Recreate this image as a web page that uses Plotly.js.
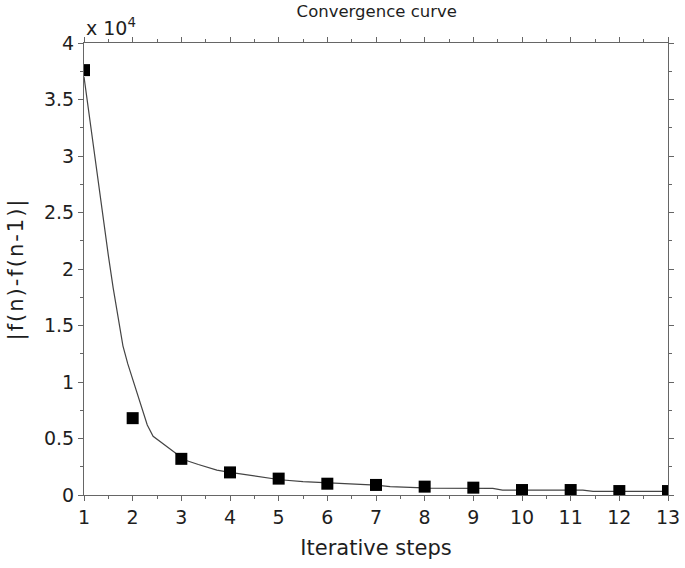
<!DOCTYPE html>
<html>
<head>
<meta charset="utf-8">
<script src="https://cdn.plot.ly/plotly-3.0.1.min.js"></script>
<style>html,body{margin:0;padding:0;background:#fff;}#chart{width:685px;height:568px;}
.ytitle{letter-spacing:2px;}</style>
</head>
<body>
<div id="chart"></div>
<script>
// Iteration steps and |f(n)-f(n-1)| values (units of 10^4)
var steps = [1, 2, 3, 4, 5, 6, 7, 8, 9, 10, 11, 12, 13];
var diffs = [3.76, 0.68, 0.32, 0.20, 0.145, 0.10, 0.089, 0.074, 0.065, 0.044, 0.044, 0.035, 0.035];

// Fitted convergence curve (units of 10^4)
var curveX = [1.0, 1.1, 1.2, 1.3, 1.4, 1.5, 1.6, 1.7, 1.8, 1.9, 2.0, 2.1, 2.2, 2.3, 2.42, 2.6, 2.8, 3.07, 3.35, 3.73, 4.0, 4.47, 5.03, 5.5, 6.05, 6.5, 7.0, 7.29, 8.11, 9.4, 9.6, 11.25, 11.46, 13.0];
var curveY = [3.70, 3.38, 3.05, 2.73, 2.42, 2.12, 1.83, 1.56, 1.32, 1.16, 1.02, 0.89, 0.75, 0.62, 0.52, 0.46, 0.40, 0.31, 0.27, 0.22, 0.20, 0.168, 0.135, 0.118, 0.106, 0.094, 0.088, 0.074, 0.060, 0.058, 0.043, 0.043, 0.032, 0.032];

var xTicks = [1, 2, 3, 4, 5, 6, 7, 8, 9, 10, 11, 12, 13];
var yTicks = [0, 0.5, 1, 1.5, 2, 2.5, 3, 3.5, 4];
var yTickText = ['0', '0.5', '1', '1.5', '2', '2.5', '3', '3.5', '4'];

var font = {family: 'DejaVu Sans, sans-serif', color: '#1e1e1e'};

var traces = [
  {x: curveX, y: curveY, type: 'scatter', mode: 'lines',
   line: {color: '#444', width: 1.2, shape: 'linear'}, hoverinfo: 'skip'},
  {x: steps, y: diffs, type: 'scatter', mode: 'markers',
   marker: {symbol: 'square', size: 12, color: '#000'}}
];

var axisCommon = {
  showgrid: false, zeroline: false, showline: true, linecolor: '#666', linewidth: 1,
  mirror: 'ticks', ticks: 'outside', ticklen: 5, tickcolor: '#666', tickwidth: 1,
  tickfont: Object.assign({size: 19}, font)
};

var layout = {
  width: 685, height: 568,
  margin: {l: 84, r: 17, t: 43, b: 73},
  paper_bgcolor: '#fff', plot_bgcolor: '#fff',
  showlegend: false,
  title: {text: 'Convergence curve', font: Object.assign({size: 16.5}, font),
          x: 0.55, xanchor: 'center', y: 0.99, yanchor: 'top'},
  xaxis: Object.assign({}, axisCommon, {
    range: [1, 13], tickvals: xTicks,
    minor: {dtick: 0.5, tick0: 1, ticklen: 3, tickcolor: '#666', ticks: 'outside'},
    title: {text: 'Iterative steps', font: Object.assign({size: 21}, font), standoff: 13}
  }),
  yaxis: Object.assign({}, axisCommon, {
    range: [0, 4], tickvals: yTicks, ticktext: yTickText,
    minor: {dtick: 0.25, tick0: 0, ticklen: 3, tickcolor: '#666', ticks: 'outside'},
    title: {text: '|f(n)-f(n-1)|', font: Object.assign({size: 21}, font), standoff: 14}
  }),
  annotations: [
    {text: 'x 10<sup>4</sup>', xref: 'paper', yref: 'paper', x: 0, y: 1, xanchor: 'left', yanchor: 'bottom',
     showarrow: false, font: Object.assign({size: 19}, font), yshift: 2}
  ]
};

Plotly.newPlot('chart', traces, layout, {displayModeBar: false, staticPlot: true});
</script>
</body>
</html>
